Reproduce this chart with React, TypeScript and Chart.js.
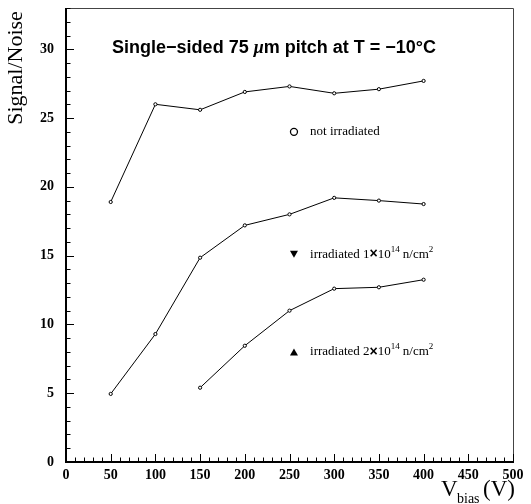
import React, { useEffect, useRef } from "react";
import { Chart, registerables } from "chart.js";

Chart.register(...registerables);

const biasVoltages = [50, 100, 150, 200, 250, 300, 350, 400];
const notIrradiated = [18.9, 26.0, 25.6, 26.9, 27.3, 26.8, 27.1, 27.7];
const irradiated1 = [4.95, 9.3, 14.85, 17.2, 18.0, 19.2, 19.0, 18.75];
const irradiated2Voltages = [150, 200, 250, 300, 350, 400];
const irradiated2 = [5.4, 8.45, 11.0, 12.6, 12.7, 13.25];

const xTicks = [0, 50, 100, 150, 200, 250, 300, 350, 400, 450, 500];
const yTicks = [0, 5, 10, 15, 20, 25, 30];

const titleA = "Single\u2212sided 75 ";
const titleMu = "\u03bc";
const titleB = "m pitch at T = \u221210\u00b0C";

const framePlugin = {
  id: "framePlugin",
  afterDraw(chart: any) {
    const ctx = chart.ctx as CanvasRenderingContext2D;
    const xs = chart.scales.x;
    const ys = chart.scales.y;
    const { left, right, top, bottom } = chart.chartArea;
    ctx.save();
    // frame
    ctx.strokeStyle = "#444";
    ctx.lineWidth = 1;
    ctx.beginPath();
    ctx.moveTo(left, top + 0.5);
    ctx.lineTo(right + 0.5, top + 0.5);
    ctx.lineTo(right + 0.5, bottom);
    ctx.stroke();
    ctx.strokeStyle = "#000";
    ctx.lineWidth = 2;
    ctx.beginPath();
    ctx.moveTo(left, top);
    ctx.lineTo(left, bottom);
    ctx.lineTo(right + 1, bottom);
    ctx.stroke();

    // y ticks
    ctx.lineWidth = 1;
    for (let v = 0; v <= 33; v++) {
      const py = Math.round(ys.getPixelForValue(v)) + 0.5;
      const len = v % 5 === 0 ? 8 : 4.5;
      ctx.beginPath();
      ctx.moveTo(left, py);
      ctx.lineTo(left + len, py);
      ctx.stroke();
    }
    // x ticks
    for (let v = 0; v <= 500; v += 10) {
      const px = Math.round(xs.getPixelForValue(v)) + 0.5;
      const len = v % 50 === 0 ? 8 : 4.5;
      ctx.beginPath();
      ctx.moveTo(px, bottom);
      ctx.lineTo(px, bottom - len);
      ctx.stroke();
    }

    // tick labels
    ctx.fillStyle = "#000";
    ctx.font = "bold 14px 'Liberation Serif'";
    ctx.textAlign = "right";
    ctx.textBaseline = "middle";
    yTicks.forEach((v) => {
      ctx.fillText(String(v), left - 12, ys.getPixelForValue(v));
    });
    ctx.textAlign = "center";
    ctx.textBaseline = "top";
    xTicks.forEach((v) => {
      ctx.fillText(String(v), xs.getPixelForValue(v), bottom + 6);
    });

    // axis titles
    ctx.font = "22px 'Liberation Serif'";
    ctx.save();
    ctx.translate(22, 68);
    ctx.rotate(-Math.PI / 2);
    ctx.textAlign = "center";
    ctx.textBaseline = "alphabetic";
    ctx.fillText("Signal/Noise", 0, 0);
    ctx.restore();

    ctx.textAlign = "left";
    ctx.textBaseline = "alphabetic";
    ctx.font = "23px 'Liberation Serif'";
    ctx.fillText("V", 441, 496);
    ctx.font = "14px 'Liberation Serif'";
    ctx.fillText("bias", 457, 503);
    ctx.font = "23px 'Liberation Serif'";
    ctx.textAlign = "right";
    ctx.fillText("(V)", 515, 496);

    // title
    ctx.textAlign = "left";
    const fA = "bold 18px 'Liberation Sans'";
    const fMu = "italic bold 18px 'Liberation Serif'";
    ctx.font = fA;
    const wA = ctx.measureText(titleA).width;
    const wB = ctx.measureText(titleB).width;
    ctx.font = fMu;
    const wMu = ctx.measureText(titleMu).width;
    let tx0 = 274 - (wA + wMu + wB) / 2;
    ctx.font = fA;
    ctx.fillText(titleA, tx0, 53);
    tx0 += wA;
    ctx.font = fMu;
    ctx.fillText(titleMu, tx0, 53);
    tx0 += wMu;
    ctx.font = fA;
    ctx.fillText(titleB, tx0, 53);

    // legend annotations
    const lx = xs.getPixelForValue(255);
    const tx = xs.getPixelForValue(273);
    const y1 = ys.getPixelForValue(24);
    const y2 = ys.getPixelForValue(15.1);
    const y3 = ys.getPixelForValue(8.0);
    ctx.lineWidth = 1.3;
    ctx.beginPath();
    ctx.arc(lx, y1, 3.5, 0, Math.PI * 2);
    ctx.stroke();
    ctx.beginPath();
    ctx.moveTo(lx - 4, y2 - 3.5);
    ctx.lineTo(lx + 4, y2 - 3.5);
    ctx.lineTo(lx, y2 + 3.5);
    ctx.closePath();
    ctx.fill();
    ctx.beginPath();
    ctx.moveTo(lx - 4, y3 + 3.5);
    ctx.lineTo(lx + 4, y3 + 3.5);
    ctx.lineTo(lx, y3 - 3.5);
    ctx.closePath();
    ctx.fill();

    ctx.textAlign = "left";
    ctx.textBaseline = "middle";
    ctx.font = "13px 'Liberation Serif'";
    ctx.fillText("not irradiated", tx, y1);

    const drawIrr = (n: string, py: number) => {
      let x = tx;
      ctx.font = "13px 'Liberation Serif'";
      const a = "irradiated " + n;
      ctx.fillText(a, x, py);
      x += ctx.measureText(a).width;
      ctx.font = "bold 14px 'Liberation Sans'";
      ctx.fillText("\u00d7", x, py);
      x += ctx.measureText("\u00d7").width;
      ctx.font = "13px 'Liberation Serif'";
      ctx.fillText("10", x, py);
      x += ctx.measureText("10").width;
      ctx.font = "9px 'Liberation Serif'";
      ctx.fillText("14", x, py - 5);
      x += ctx.measureText("14").width + 3;
      ctx.font = "13px 'Liberation Serif'";
      ctx.fillText("n/cm", x, py);
      x += ctx.measureText("n/cm").width;
      ctx.font = "9px 'Liberation Serif'";
      ctx.fillText("2", x, py - 5);
    };
    drawIrr("1", y2);
    drawIrr("2", y3);
    ctx.restore();
  },
};

export default function App() {
  const ref = useRef<HTMLCanvasElement>(null);
  useEffect(() => {
    if (!ref.current) return;
    const mk = (xv: number[], yv: number[]) => xv.map((x, i) => ({ x, y: yv[i] }));
    const ds = (label: string, data: any[]) => ({
      label,
      data,
      borderColor: "#000",
      backgroundColor: "#fff",
      borderWidth: 1,
      pointRadius: 1.6,
      pointBorderWidth: 1,
      pointBorderColor: "#000",
      pointBackgroundColor: "#fff",
      tension: 0,
    });
    const chart = new Chart(ref.current, {
      type: "line",
      data: {
        datasets: [
          ds("not irradiated", mk(biasVoltages, notIrradiated)),
          ds("irradiated 1x10^14 n/cm2", mk(biasVoltages, irradiated1)),
          ds("irradiated 2x10^14 n/cm2", mk(irradiated2Voltages, irradiated2)),
        ],
      },
      options: {
        animation: false,
        responsive: false,
        layout: { padding: { left: 66, right: 18, top: 8, bottom: 42 } },
        plugins: { legend: { display: false }, tooltip: { enabled: false } },
        scales: {
          x: { type: "linear", min: 0, max: 500, display: false },
          y: { type: "linear", min: 0, max: 33, display: false },
        },
      },
      plugins: [framePlugin],
    });
    return () => chart.destroy();
  }, []);
  return (
    <div style={{ position: "fixed", left: 0, top: 0, width: 531, height: 504, background: "#fff" }}>
      <canvas ref={ref} width={531} height={504} style={{ width: 531, height: 504 }} />
    </div>
  );
}
